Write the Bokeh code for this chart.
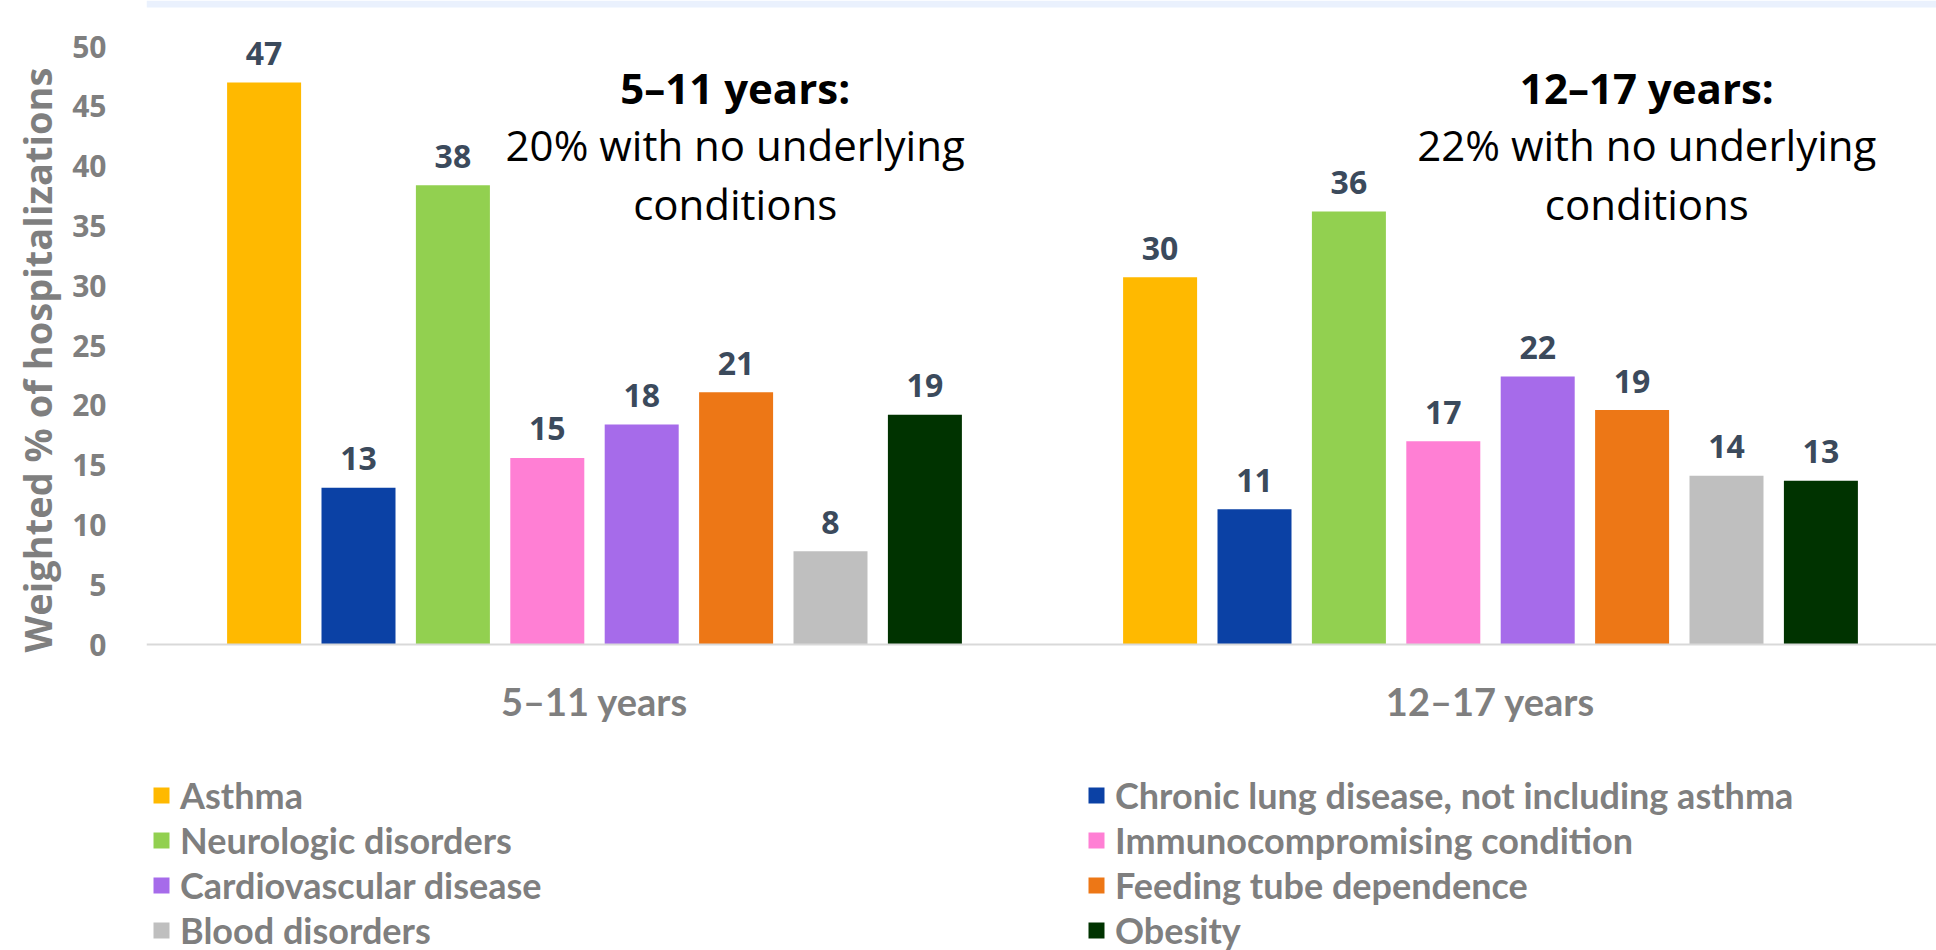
from bokeh.plotting import figure
from bokeh.models import ColumnDataSource, Range1d, FixedTicker, Legend, LegendItem, Title, BoxAnnotation
from bokeh.core.properties import value
from bokeh.embed import file_html
from bokeh.resources import INLINE

# ---------------- data ----------------
groups = ["5–11 years", "12–17 years"]
conditions = [
    "Asthma",
    "Chronic lung disease, not including asthma",
    "Neurologic disorders",
    "Immunocompromising condition",
    "Cardiovascular disease",
    "Feeding tube dependence",
    "Blood disorders",
    "Obesity",
]
colors = ["#FFB900", "#0B41A5", "#92D050", "#FF7FD4", "#A66BEA", "#ED7716", "#BFBFBF", "#003300"]
values_5_11 = [47.0, 13.1, 38.4, 15.6, 18.4, 21.1, 7.8, 19.2]
values_12_17 = [30.7, 11.3, 36.2, 17.0, 22.4, 19.6, 14.1, 13.7]
labels_5_11 = ["47", "13", "38", "15", "18", "21", "8", "19"]
labels_12_17 = ["30", "11", "36", "17", "22", "19", "14", "13"]
y_ticks = [0, 5, 10, 15, 20, 25, 30, 35, 40, 45, 50]
note_5_11 = ["5–11 years:", "20% with no underlying", "conditions"]
note_12_17 = ["12–17 years:", "22% with no underlying", "conditions"]
y_title = "Weighted % of hospitalizations"

# ---------------- layout constants ----------------
W, H = 1936, 950
FRAME_L, AXIS_Y = 146, 644          # left edge of plot area, pixel row of the value 0
PX_PER_UNIT = 11.96
GROUP_PX = 896.0
SLOT = 94.4 / GROUP_PX
BAR_W = 74.0 / GROUP_PX
Y_END = AXIS_Y / PX_PER_UNIT
Y_START = -(H - AXIS_Y) / PX_PER_UNIT
GRAY = "#7F7F7F"
LABEL_COLOR = "#3B4A5C"
SANS = "Open Sans"
HUM = "Lato"

p = figure(width=W, height=H, output_backend="svg", toolbar_location=None,
           x_range=Range1d(0.5, 0.5 + (W - FRAME_L) / GROUP_PX), y_range=Range1d(Y_START, Y_END),
           min_border_left=FRAME_L, min_border_right=0, min_border_top=0, min_border_bottom=0)
p.outline_line_color = None
p.background_fill_color = "white"
p.border_fill_color = "white"
p.xgrid.visible = False
p.ygrid.visible = False

# thin light-blue band at the very top
p.add_layout(BoxAnnotation(top=Y_END, bottom=Y_END - 7 / PX_PER_UNIT, fill_color="#EAF1FD",
                           fill_alpha=1, line_color=None, level="underlay"))

group_pos = [1, 2]
renderers = []
lx, ly, lt = [], [], []
for i, cond in enumerate(conditions):
    xs = [g + (i - 3.5) * SLOT for g in group_pos]
    tops = [values_5_11[i], values_12_17[i]]
    src = ColumnDataSource(dict(x=xs, top=tops))
    r = p.vbar(x="x", top="top", width=BAR_W, source=src, fill_color=colors[i], line_color=None)
    renderers.append(r)
    lx += xs
    ly += tops
    lt += [labels_5_11[i], labels_12_17[i]]

lab_src = ColumnDataSource(dict(x=lx, y=ly, t=lt))
p.text(x="x", y="y", text="t", source=lab_src, text_align="center", text_baseline="middle",
       y_offset=-29, text_font=value(SANS), text_font_style="bold", text_font_size="32px",
       text_color=LABEL_COLOR)

# annotations
note_y = [(AXIS_Y - 87) / PX_PER_UNIT, (AXIS_Y - 143.5) / PX_PER_UNIT, (AXIS_Y - 203) / PX_PER_UNIT]
for cx, lines in [(1.157, note_5_11), (2.1745, note_12_17)]:
    p.text(x=[cx], y=[note_y[0]], text=[lines[0]], text_align="center", text_baseline="middle",
           text_font=value(SANS), text_font_style="bold", text_font_size="42px", text_color="black")
    p.text(x=[cx, cx], y=note_y[1:], text=lines[1:], text_align="center", text_baseline="middle",
           text_font=value(SANS), text_font_style="normal", text_font_size="42px", text_color="black")

# axes
yax = p.yaxis[0]
yax.ticker = FixedTicker(ticks=y_ticks)
yax.axis_line_color = None
yax.major_tick_line_color = None
yax.minor_tick_line_color = None
yax.major_label_standoff = 34
yax.major_label_text_font = SANS
yax.major_label_text_font_style = "bold"
yax.major_label_text_font_size = "30px"
yax.major_label_text_color = GRAY

xax = p.xaxis[0]
xax.fixed_location = 0
xax.ticker = FixedTicker(ticks=group_pos)
xax.major_label_overrides = {group_pos[0]: groups[0], group_pos[1]: groups[1]}
xax.axis_line_color = "#D9D9D9"
xax.axis_line_width = 2
xax.major_tick_line_color = None
xax.minor_tick_line_color = None
xax.major_label_standoff = 27
xax.major_label_text_font = HUM
xax.major_label_text_font_style = "bold"
xax.major_label_text_font_size = "38px"
xax.major_label_text_color = GRAY

p.add_layout(Title(text=y_title, align="left", offset=H - 652, standoff=10, vertical_align="top",
                   text_font=SANS, text_font_style="bold", text_font_size="38px",
                   text_color=GRAY), "left")

# legend: two columns of four entries under the axis
def make_legend(idx, loc):
    return Legend(items=[LegendItem(label=conditions[k], renderers=[renderers[k]]) for k in idx],
                  location=loc, orientation="vertical", glyph_width=20, glyph_height=20,
                  label_standoff=9, spacing=0, padding=0, margin=0, label_height=45,
                  border_line_color=None, background_fill_alpha=0,
                  label_text_font=HUM, label_text_font_style="bold", label_text_font_size="36px",
                  label_text_color=GRAY, label_text_baseline="middle")

p.add_layout(make_legend([0, 2, 4, 6], (5, -2)), "center")
p.add_layout(make_legend([1, 3, 5, 7], (940, -2)), "center")

open("out.html", "w").write(file_html(p, INLINE))
